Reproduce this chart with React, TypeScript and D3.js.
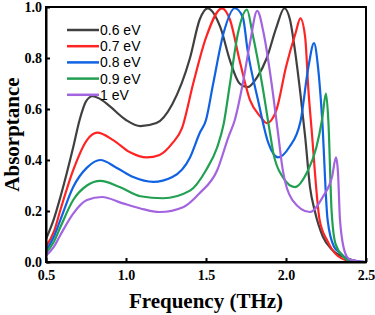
import React, { useEffect, useRef } from 'react';
import * as d3 from 'd3';

// absorptance curves, one pair of arrays per Fermi level
const freq06 = [0.5, 0.55, 0.59, 0.67, 0.71, 0.75, 0.79, 0.85, 0.9, 1.0, 1.09, 1.19, 1.29, 1.4, 1.46, 1.51, 1.59, 1.65, 1.71, 1.76, 1.82, 1.88, 1.94, 1.99, 2.025, 2.056, 2.09, 2.12, 2.15, 2.18, 2.23, 2.29, 2.38, 2.45, 2.5];
const abs06 = [0.09, 0.17, 0.255, 0.45, 0.557, 0.63, 0.65, 0.635, 0.61, 0.557, 0.533, 0.545, 0.62, 0.8, 0.95, 0.995, 0.92, 0.79, 0.7, 0.686, 0.725, 0.8, 0.92, 0.995, 0.95, 0.83, 0.66, 0.49, 0.294, 0.2, 0.1, 0.047, 0.015, 0.003, 0.0];

const freq07 = [0.5, 0.55, 0.59, 0.67, 0.756, 0.82, 0.92, 1.025, 1.13, 1.21, 1.29, 1.35, 1.42, 1.5, 1.6, 1.65, 1.71, 1.775, 1.84, 1.88, 1.94, 2.0, 2.06, 2.09, 2.12, 2.14, 2.16, 2.21, 2.256, 2.29, 2.37, 2.45, 2.5];
const abs07 = [0.06, 0.12, 0.204, 0.36, 0.478, 0.507, 0.478, 0.43, 0.41, 0.42, 0.466, 0.525, 0.7, 0.88, 0.995, 0.95, 0.79, 0.635, 0.57, 0.545, 0.596, 0.765, 0.898, 0.955, 0.88, 0.675, 0.52, 0.165, 0.086, 0.047, 0.008, 0.0, 0.0];

const freq08 = [0.5, 0.55, 0.59, 0.67, 0.756, 0.84, 0.94, 1.045, 1.17, 1.29, 1.4, 1.46, 1.5, 1.545, 1.61, 1.68, 1.73, 1.76, 1.825, 1.89, 1.95, 2.02, 2.09, 2.14, 2.175, 2.2, 2.225, 2.26, 2.3, 2.34, 2.4, 2.5];
const abs08 = [0.045, 0.1, 0.165, 0.294, 0.37, 0.4, 0.37, 0.333, 0.314, 0.333, 0.41, 0.505, 0.557, 0.7, 0.898, 0.995, 0.96, 0.83, 0.635, 0.466, 0.41, 0.45, 0.55, 0.765, 0.858, 0.765, 0.57, 0.165, 0.06, 0.035, 0.005, 0.0];

const freq09 = [0.5, 0.55, 0.59, 0.67, 0.756, 0.84, 0.96, 1.09, 1.23, 1.4, 1.5, 1.57, 1.61, 1.65, 1.7, 1.756, 1.79, 1.85, 1.9, 1.92, 1.98, 2.056, 2.13, 2.19, 2.225, 2.25, 2.265, 2.285, 2.31, 2.36, 2.42, 2.5];
const abs09 = [0.035, 0.08, 0.137, 0.243, 0.3, 0.318, 0.294, 0.258, 0.25, 0.28, 0.36, 0.45, 0.54, 0.7, 0.898, 0.99, 0.898, 0.7, 0.506, 0.43, 0.333, 0.294, 0.35, 0.45, 0.557, 0.66, 0.55, 0.2, 0.07, 0.02, 0.0, 0.0];

const freq10 = [0.5, 0.55, 0.59, 0.67, 0.756, 0.85, 0.98, 1.09, 1.21, 1.36, 1.46, 1.57, 1.64, 1.68, 1.73, 1.775, 1.82, 1.86, 1.91, 1.95, 1.98, 2.04, 2.15, 2.23, 2.2875, 2.3125, 2.325, 2.3375, 2.37, 2.4, 2.5];
const abs10 = [0.025, 0.06, 0.106, 0.19, 0.243, 0.255, 0.23, 0.21, 0.196, 0.216, 0.27, 0.36, 0.49, 0.557, 0.7, 0.86, 0.985, 0.898, 0.7, 0.506, 0.36, 0.243, 0.196, 0.255, 0.333, 0.41, 0.35, 0.165, 0.035, 0.01, 0.0];

const seriesNames = ['0.6 eV', '0.7 eV', '0.8 eV', '0.9 eV', '1 eV'];
const seriesColors = ['#404040', '#ff2424', '#1062e2', '#22a052', '#a364e0'];
const xTicks = [0.5, 1.0, 1.5, 2.0, 2.5];
const yTicks = [0, 0.2, 0.4, 0.6, 0.8, 1.0];

const serif = '"Liberation Serif", "Times New Roman", serif';

function App() {
  const chartRef = useRef<SVGSVGElement>(null);

  const width = 375;
  const height = 315;
  const margin = { left: 46, right: 9, top: 7, bottom: 53 };

  useEffect(() => {
    const svg = d3.select(chartRef.current);
    svg.selectAll('*').remove();

    const xScale = d3.scaleLinear()
      .domain([0.5, 2.5])
      .range([margin.left, width - margin.right]);

    const yScale = d3.scaleLinear()
      .domain([0, 1])
      .range([height - margin.bottom, margin.top]);

    const series = [
      { x: freq06, y: abs06 },
      { x: freq07, y: abs07 },
      { x: freq08, y: abs08 },
      { x: freq09, y: abs09 },
      { x: freq10, y: abs10 },
    ];

    const line = d3.line<[number, number]>()
      .x(d => xScale(d[0]))
      .y(d => yScale(d[1]))
      .curve(d3.curveMonotoneX);

    const plot = svg.append('g');
    series.forEach((s, i) => {
      const pts = s.x.map((f, j) => [f, s.y[j]] as [number, number]);
      plot.append('path')
        .datum(pts)
        .attr('fill', 'none')
        .attr('stroke', seriesColors[i])
        .attr('stroke-width', 2.2)
        .attr('stroke-linejoin', 'round')
        .attr('d', line);
    });

    // frame
    svg.append('rect')
      .attr('x', xScale(0.5))
      .attr('y', yScale(1))
      .attr('width', xScale(2.5) - xScale(0.5))
      .attr('height', yScale(0) - yScale(1))
      .attr('fill', 'none')
      .attr('stroke', '#000')
      .attr('stroke-width', 2);

    const xAxis = d3.axisBottom(xScale)
      .tickValues(xTicks)
      .tickFormat(d3.format('.1f'))
      .tickSizeInner(-4)
      .tickSizeOuter(0)
      .tickPadding(8);

    const yAxis = d3.axisLeft(yScale)
      .tickValues(yTicks)
      .tickFormat(d3.format('.1f'))
      .tickSizeInner(-4)
      .tickSizeOuter(0)
      .tickPadding(4);

    const gx = svg.append('g')
      .attr('transform', `translate(0, ${yScale(0)})`)
      .call(xAxis);
    const gy = svg.append('g')
      .attr('transform', `translate(${xScale(0.5)}, 0)`)
      .call(yAxis);

    [gx, gy].forEach(g => {
      g.attr('font-family', serif).attr('font-size', 14).attr('font-weight', 'bold');
      g.select('.domain').attr('stroke-width', 2);
      g.selectAll('.tick line').attr('stroke-width', 2);
      g.selectAll('.tick text')
        .style('font-family', serif)
        .style('font-weight', 'bold')
        .style('font-size', '14px')
        .attr('fill', '#000');
    });

    svg.append('text')
      .attr('x', (xScale(0.5) + xScale(2.5)) / 2)
      .attr('y', 308)
      .attr('text-anchor', 'middle')
      .style('font-family', serif)
      .style('font-weight', 'bold')
      .style('font-size', '21px')
      .text('Frequency (THz)');

    svg.append('text')
      .attr('transform', `translate(19, ${(yScale(0) + yScale(1)) / 2}) rotate(-90)`)
      .attr('text-anchor', 'middle')
      .style('font-family', serif)
      .style('font-weight', 'bold')
      .style('font-size', '21px')
      .text('Absorptance');

    // legend
    const legend = svg.append('g');
    seriesNames.forEach((name, i) => {
      const y = 30 + i * 16.2;
      legend.append('line')
        .attr('x1', 67).attr('x2', 99)
        .attr('y1', y).attr('y2', y)
        .attr('stroke', seriesColors[i])
        .attr('stroke-width', 2.5);
      legend.append('text')
        .attr('x', 100)
        .attr('y', y + 5)
        .style('font-family', '"Liberation Sans", Arial, sans-serif')
        .style('font-size', '14px')
        .attr('fill', '#000')
        .text(name);
    });
    // eslint-disable-next-line
  }, []);

  return (
    <div style={{ position: 'absolute', left: 0, top: 0 }}>
      <svg ref={chartRef} width={width} height={height} viewBox='0 0 375 315' style={{ display: 'block', background: '#fff' }}></svg>
    </div>
  );
}

export default App;
